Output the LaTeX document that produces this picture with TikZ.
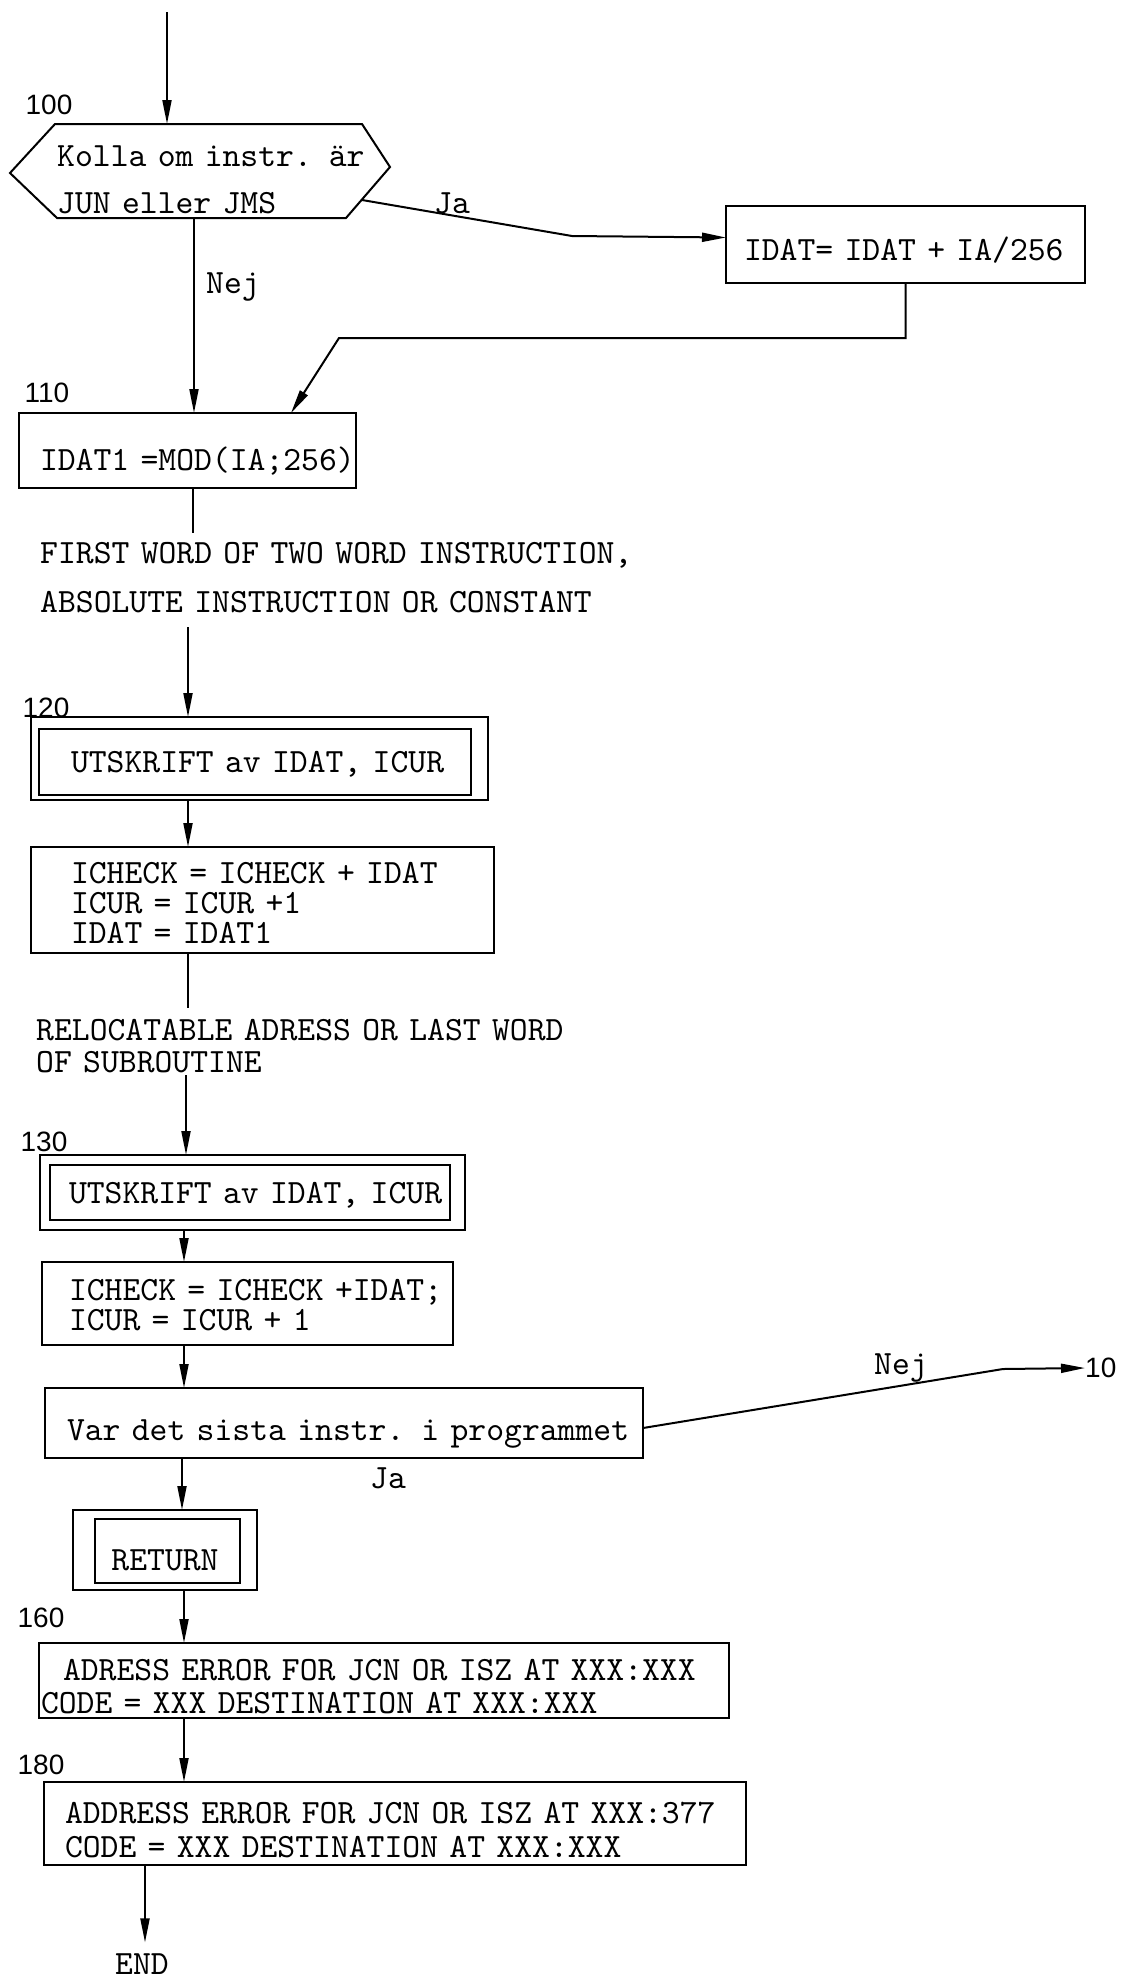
\documentclass[tikz,border=0pt]{standalone}
\usepackage{fontspec}
\newfontfamily\labfont{Liberation Sans}
\newfontfamily\tw{lmmono10-regular}[Extension=.otf]
\usetikzlibrary{arrows.meta}
\newcommand\fs[1]{\tw\fontsize{34}{#1}\selectfont\lineskiplimit=-100pt\relax}
\begin{document}
\begin{tikzpicture}[x=1pt,y=-1pt,
  bx/.style={draw, line width=2pt, outer sep=0pt, inner ysep=0pt, anchor=north west, align=left},
  ln/.style={line width=2pt},
  arr/.style={line width=2pt, -{Triangle[length=24pt,width=9pt]}},
  lbl/.style={font=\labfont\fontsize{28}{28}\selectfont, inner sep=0pt},
  tt/.style={font=\fs{32}, inner sep=0pt},
  note/.style={inner sep=0pt, anchor=north west, align=left, text width=760pt}]
\useasboundingbox (0,0) rectangle (1123,1982);

% decision hexagon
\draw[ln] (10,173) -- (55,124) -- (362,124) -- (390,167) -- (346,218) -- (57,218) -- cycle;
\node[note, font=\fs{47}, text height=21pt, text depth=50pt] (dec) at (57,145)
  {Kolla om instr. är\\JUN eller JMS};
\node[lbl] (l100) at (49,105) {100};
\coordinate (start) at (167,12);
\coordinate (hexN) at (167,124);
\coordinate (hexS) at (194,218);
\coordinate (jaS) at (362,200);
\coordinate (jaB) at (572,236);
\draw[arr] (start) -- (hexN);

% IDAT box
\node[bx, font=\fs{32}, text width=323pt, inner xsep=18pt, text height=54pt, text depth=23pt] (bI) at (726,206)
  {\mbox{IDAT= IDAT + IA/256}};
\draw[arr] (jaS) -- (jaB) -- ([yshift=7pt]bI.west);
\node[tt] (tJa1) at (452,203) {Ja};

% box 110
\node[bx, font=\fs{32}, text width=295pt, inner xsep=21pt, text height=57pt, text depth=18pt] (b110) at (19,413)
  {\mbox{IDAT1 =MOD(IA;256)}};
\node[lbl] (l110) at (47,393) {110};
\draw[arr] (hexS) -- (hexS |- b110.north);
\node[tt] (tNej1) at (233,287) {Nej};
\coordinate (c1) at (905.5,338);
\coordinate (c2) at (339,338);
\draw[arr] (bI.south) -- (c1) -- (c2) -- ([xshift=103.5pt]b110.north);

% note 1
\node[note, font=\fs{49}, text height=21pt, text depth=51pt] (note1) at (40,542)
  {FIRST WORD OF TWO WORD INSTRUCTION,\\ABSOLUTE INSTRUCTION OR CONSTANT};
\coordinate (k0) at ([xshift=5.5pt]b110.south);
\draw[ln, shorten >=9pt] (k0) -- (k0 |- note1.north);

% box 120
\node[bx, font=\fs{32}, text width=377pt, inner xsep=40pt, text height=55pt, text depth=28pt] (b120) at (31,717)
  {\mbox{UTSKRIFT av IDAT, ICUR}};
\draw[ln] ([shift={(8,12)}]b120.north west) rectangle ([shift={(-17,-5)}]b120.south east);
\node[lbl] (l120) at (46,708) {120};
\coordinate (k1) at ([xshift=148pt]note1.south west);
\draw[arr, shorten <=13pt] (k1) -- ([xshift=157pt]b120.north west);

% ICHECK box 1
\node[bx, font=\fs{30}, text width=383pt, inner xsep=40pt, text height=36pt, text depth=70pt] (bck1) at (31,847)
  {\mbox{ICHECK = ICHECK + IDAT}\\\mbox{ICUR = ICUR +1}\\\mbox{IDAT = IDAT1}};
\draw[arr] ([xshift=157pt]b120.south west) -- ([xshift=157pt]bck1.north west);

% note 2
\node[note, font=\fs{32}, text height=21pt, text depth=35pt] (note2) at (36,1019)
  {RELOCATABLE ADRESS OR LAST WORD\\OF SUBROUTINE};
\coordinate (k2) at ([xshift=157pt]bck1.south west);
\draw[ln, shorten >=11pt] (k2) -- (k2 |- note2.north);

% box 130
\node[bx, font=\fs{32}, text width=367pt, inner xsep=29pt, text height=48pt, text depth=27pt] (b130) at (40,1155)
  {\mbox{UTSKRIFT av IDAT, ICUR}};
\draw[ln] ([shift={(10,10)}]b130.north west) rectangle ([shift={(-15,-10)}]b130.south east);
\node[lbl] (l130) at (44,1142) {130};
\draw[arr] ([xshift=150pt]note2.south west) -- ([xshift=146pt]b130.north west);

% ICHECK box 2
\node[bx, font=\fs{30}, text width=357pt, inner xsep=27pt, text height=38pt, text depth=45pt] (bck2) at (42,1262)
  {\mbox{ICHECK = ICHECK +IDAT;}\\\mbox{ICUR = ICUR + 1}};
\draw[arr] ([xshift=144pt]b130.south west) -- ([xshift=142pt]bck2.north west);

% decision box
\node[bx, font=\fs{32}, text width=554pt, inner xsep=22pt, text height=52pt, text depth=18pt] (bvar) at (45,1388)
  {\mbox{Var det sista instr. i programmet}};
\draw[arr] ([xshift=142pt]bck2.south west) -- ([xshift=139pt]bvar.north west);
\node[lbl, anchor=west] (t10) at (1085,1368) {10};
\coordinate (v1) at ([yshift=-5pt]bvar.east);
\coordinate (v2) at (1003,1369);
\draw[arr] (v1) -- (v2) -- (t10.west);
\node[tt] (tNej2) at (901,1368) {Nej};
\node[tt] (tJa2) at (388,1478) {Ja};

% RETURN
\node[bx, align=center, font=\fs{32}, text width=164pt, inner xsep=10pt, text height=60pt, text depth=20pt] (bret) at (73,1510)
  {RETURN};
\draw[ln] ([shift={(22,9)}]bret.north west) rectangle ([shift={(-17,-7)}]bret.south east);
\draw[arr] ([xshift=137pt]bvar.south west) -- ([xshift=109pt]bret.north west);

% box 160
\node[bx, font=\fs{33}, text width=642pt, inner xsep=24pt, text height=37pt, text depth=38pt] (b160) at (39,1643)
  {\mbox{ADRESS ERROR FOR JCN OR ISZ AT XXX:XXX}\\\hspace*{-22pt}\mbox{CODE = XXX DESTINATION AT XXX:XXX}};
\node[lbl] (l160) at (41,1618) {160};
\draw[arr] ([xshift=111pt]bret.south west) -- ([xshift=145pt]b160.north west);

% box 180
\node[bx, font=\fs{34}, text width=660pt, inner xsep=21pt, text height=41pt, text depth=42pt] (b180) at (44,1782)
  {\mbox{ADDRESS ERROR FOR JCN OR ISZ AT XXX:377}\\\mbox{CODE = XXX DESTINATION AT XXX:XXX}};
\node[lbl] (l180) at (41,1765) {180};
\draw[arr] ([xshift=145pt]b160.south west) -- ([xshift=140pt]b180.north west);

% END
\node[tt] (tEND) at (142,1964) {END};
\coordinate (k3) at ([xshift=101pt]b180.south west);
\draw[arr, shorten >=11pt] (k3) -- (k3 |- tEND.north);
\end{tikzpicture}
\end{document}
